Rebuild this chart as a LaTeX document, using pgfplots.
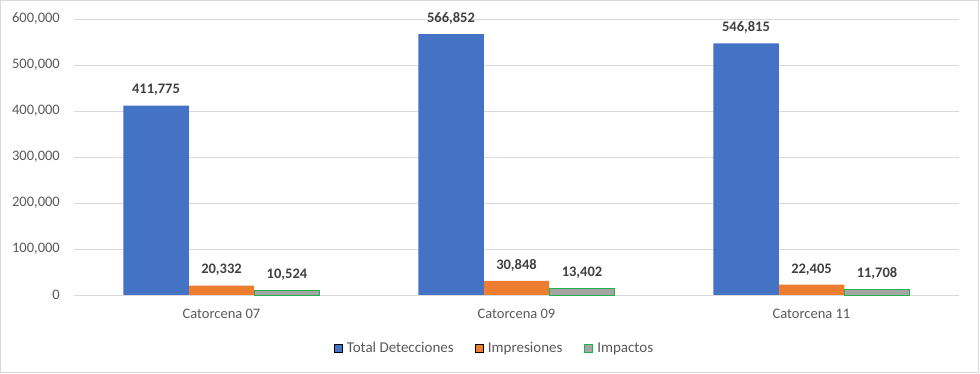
\documentclass[border=0pt]{standalone}
\usepackage{fontspec}
\setmainfont{Carlito}
\usepackage{pgfplots}
\pgfplotsset{compat=1.18}
\definecolor{cblue}{HTML}{4472C4}
\definecolor{corange}{HTML}{ED7D31}
\definecolor{cgray}{HTML}{A5A5A5}
\definecolor{cgreen}{HTML}{22B14C}
\definecolor{gridc}{HTML}{D9D9D9}
\definecolor{tickc}{HTML}{595959}
\definecolor{labc}{HTML}{404040}
\definecolor{framec}{HTML}{D9D9D9}
\begin{document}
\begin{tikzpicture}
\useasboundingbox (-74pt,-79pt) rectangle (906pt,295pt);
\draw[framec, line width=0.8pt] (-73.5pt,-77pt) rectangle (904pt,294.5pt);
\begin{axis}[
  at={(0pt,0pt)}, anchor=south west,
  scale only axis, width=885pt, height=276pt,
  ybar,
  xmin=-0.5, xmax=2.5, ymin=0, ymax=600000,
  xtick={0,1,2},
  xticklabels={Catorcena 07,Catorcena 09,Catorcena 11},
  ytick={0,100000,200000,300000,400000,500000,600000},
  scaled y ticks=false,
  /pgf/number format/.cd, fixed, precision=0, 1000 sep={,}, assume math mode=true,
  /pgfplots/.cd,
  axis line style={draw=none},
  major tick length=0pt,
  ymajorgrids, grid style={gridc, line width=0.8pt},
  tick label style={font=\fontsize{14.5}{16}\selectfont, text=tickc},
  y tick label style={inner sep=0pt, xshift=-14pt},
  x tick label style={inner sep=0pt, yshift=-14pt},
  nodes near coords,
  nodes near coords style={font=\bfseries\fontsize{14.5}{16}\selectfont, text=labc, inner sep=0pt, anchor=south, yshift=9.5pt},
  legend style={draw=none, at={(0.475,-0.192)}, anchor=center, font=\fontsize{15}{17}\selectfont, text=tickc,
    /tikz/every even column/.append style={column sep=19pt}},
  legend columns=-1,
  legend image code/.code={\draw[#1] (0pt,-4pt) rectangle (8pt,4pt); \path (11pt,0pt);},
  clip=false,
]
\addplot[fill=cblue, draw=none, bar width=0.222, bar shift=-0.222] coordinates {(0,411775) (1,566852) (2,546815)};
\addplot[fill=corange, draw=none, bar width=0.222, bar shift=0] coordinates {(0,20332) (1,30848) (2,22405)};
\addplot[fill=cgray, draw=cgreen, line width=0.8pt, bar width=0.222, bar shift=0.222] coordinates {(0,10524) (1,13402) (2,11708)};
\legend{Total Detecciones, Impresiones, Impactos}
\end{axis}
\end{tikzpicture}
\end{document}
